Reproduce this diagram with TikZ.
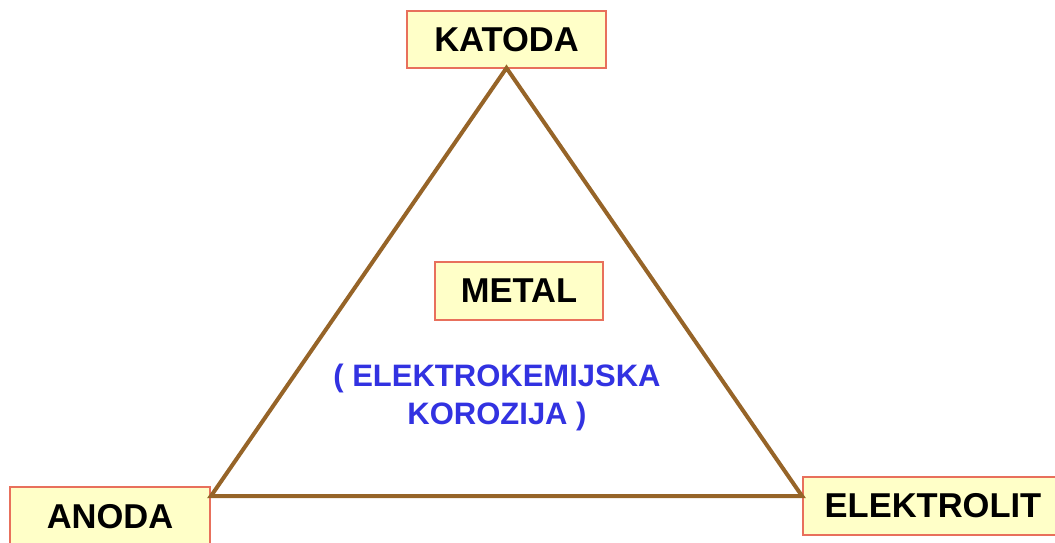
\documentclass[tikz,border=0pt]{standalone}
\usepackage{fontspec}
\setmainfont{Liberation Sans}
\usetikzlibrary{calc}
\definecolor{boxfill}{RGB}{255,255,200}
\definecolor{boxline}{RGB}{232,112,92}
\definecolor{tri}{RGB}{150,100,40}
\definecolor{bluetxt}{RGB}{50,50,225}
\tikzset{
  lbl/.style={draw=boxline, fill=boxfill, line width=2pt, inner sep=0pt,
    font=\fontsize{34.5}{38}\selectfont\bfseries, text=black},
  side/.style={draw=tri, line width=4pt, line join=miter}
}
\begin{document}
\begin{tikzpicture}[x=1pt,y=-1pt]
\useasboundingbox (0,0) rectangle (1055,543);
\node[lbl, minimum width=199pt, minimum height=57pt] (katoda) at (506.5,39.5) {KATODA};
\node[lbl, minimum width=200pt, minimum height=60pt] (anoda) at (110,517) {ANODA};
\node[lbl, minimum width=260pt, minimum height=58pt] (elektrolit) at (933,506) {ELEKTROLIT};
\node[lbl, minimum width=168pt, minimum height=58pt] (metal) at (519,291) {METAL};
\node[text=bluetxt, font=\fontsize{31}{38}\selectfont\bfseries, align=center] (kor) at (497,397) {( ELEKTROKEMIJSKA\\KOROZIJA )};
\draw[side] ([yshift=1pt]katoda.south) -- ([yshift=-10pt]anoda.north east) -- ([yshift=-20pt]elektrolit.north west) -- cycle;
\end{tikzpicture}
\end{document}
